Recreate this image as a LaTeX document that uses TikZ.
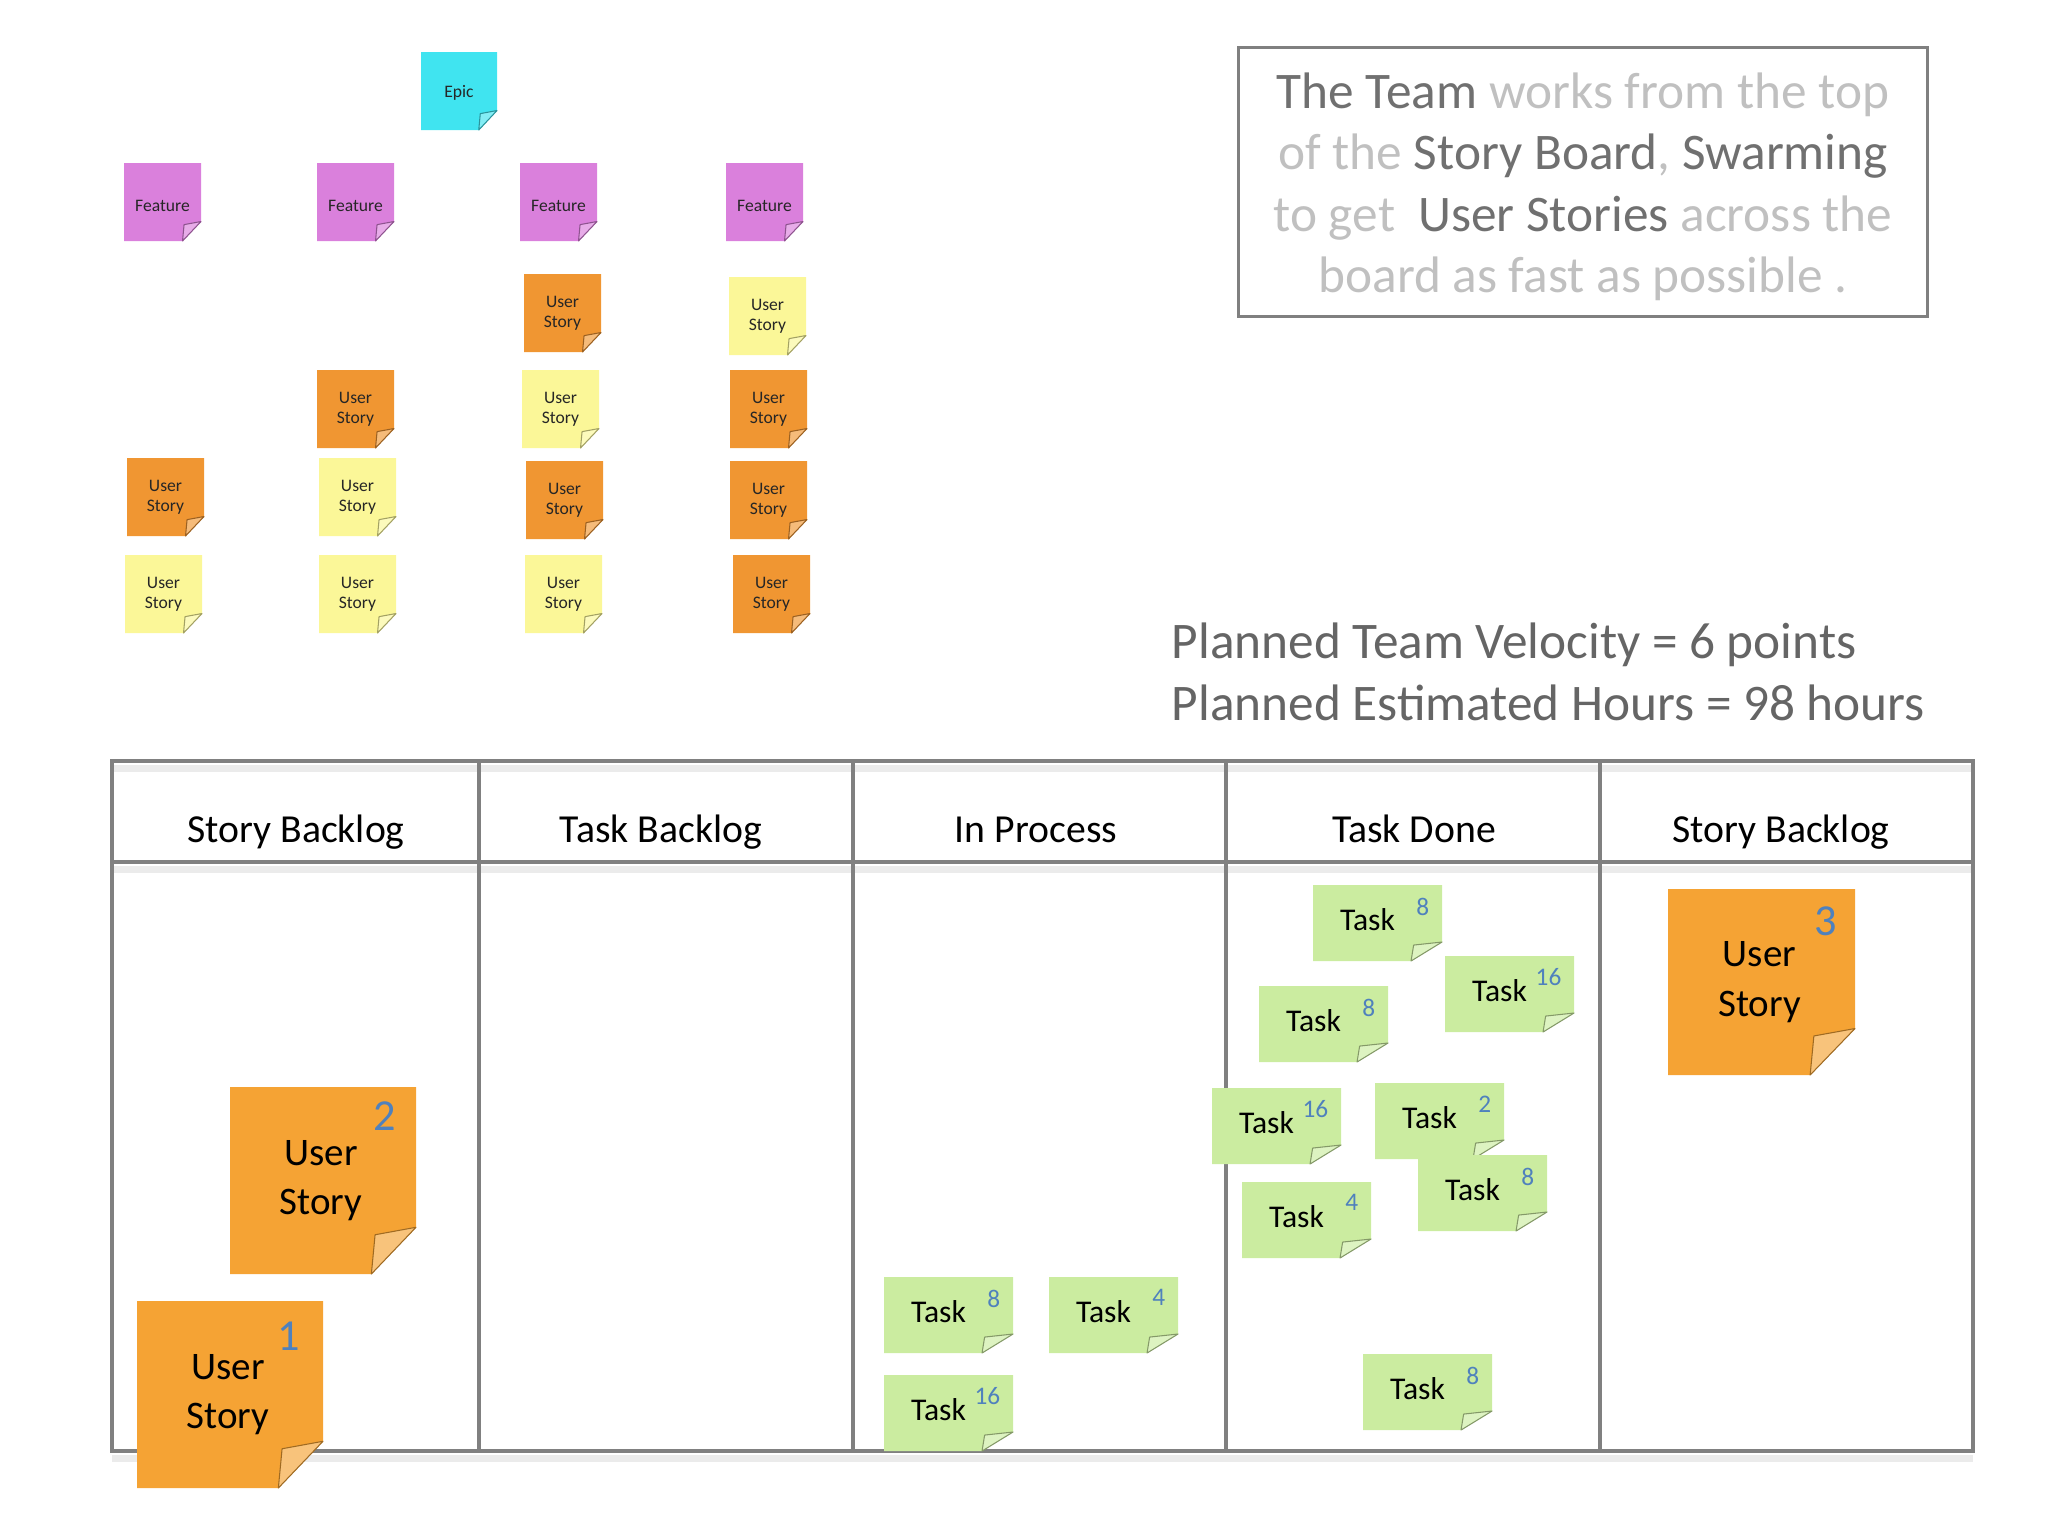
\documentclass[tikz,border=0pt]{standalone}
\usepackage{fontspec}
\setmainfont{Carlito}

\definecolor{epiccyan}{RGB}{64,228,240}
\definecolor{featpink}{RGB}{218,128,220}
\definecolor{smallorange}{RGB}{240,150,50}
\definecolor{smallyellow}{RGB}{251,247,152}
\definecolor{storyorange}{RGB}{245,163,52}
\definecolor{taskgreen}{RGB}{203,236,160}
\definecolor{numblue}{RGB}{79,129,189}
\definecolor{boardgrey}{RGB}{128,128,128}
\definecolor{darktext}{RGB}{112,112,112}
\definecolor{lighttext}{RGB}{192,192,192}

% sticky note: name, text style, top left, width, height, colour, text
\newcommand{\sticky}[7]{%
  \begin{scope}[shift={#3}]
    \fill[#6] (0,0) -- (#4,0) -- (#4,0.75*#5) -- (0.76*#4,#5) -- (0,#5) -- cycle;
    \filldraw[fill=#6!65!white, draw=#6!65!black, line width=0.3pt, line join=round]
      (0.76*#4,#5) -- (0.78*#4,0.79*#5) -- (#4,0.75*#5) -- cycle;
    \coordinate (#1-ne) at (#4,0);
    \node[#2] (#1) at (0.5*#4,0.5*#5) {#7};
  \end{scope}}

\begin{document}
\begin{tikzpicture}[x=0.1mm, y=-0.1mm,
  board/.style={draw=boardgrey, line width=0.9pt},
  boardshade/.style={draw=black!8, line width=2pt},
  header/.style={font=\fontsize{11.3}{13.5}\selectfont, anchor=base},
  smalltext/.style={font=\fontsize{5}{5.8}\selectfont, text=black!85, align=center, inner sep=0},
  bigtext/.style={font=\fontsize{11.1}{14}\selectfont, align=center, inner sep=0, xshift=-0.2mm},
  tasktext/.style={font=\fontsize{9}{10}\selectfont, inner sep=0, xshift=-1mm, yshift=0.3mm},
  bignum/.style={font=\fontsize{12.6}{13}\selectfont, text=numblue, anchor=north east, inner sep=0},
  tasknum/.style={font=\fontsize{7.2}{8}\selectfont, text=numblue, anchor=north east, inner sep=0}]
\useasboundingbox (0,0) rectangle (2048,1536);

% story map
\sticky{epic}{smalltext, yshift=-0.2mm}{(421,52)}{76}{78}{epiccyan}{Epic}
\foreach \nm/\px in {f1/124, f2/317, f3/520, f4/726}
  \sticky{\nm}{smalltext, yshift=-0.4mm}{(\px,163)}{77}{78}{featpink}{Feature};
\foreach \nm/\px/\py/\col in {s31/524/274/smallorange, s41/729/277/smallyellow,
    s22/317/370/smallorange, s32/522/370/smallyellow, s42/730/370/smallorange,
    s13/127/458/smallorange, s23/319/458/smallyellow, s33/526/461/smallorange, s43/730/461/smallorange,
    s14/125/555/smallyellow, s24/319/555/smallyellow, s34/525/555/smallyellow, s44/733/555/smallorange}
  \sticky{\nm}{smalltext}{(\px,\py)}{77}{78}{\col}{User\\Story};

% text box
\node[draw=boardgrey, line width=0.7pt, minimum width=68.9mm, minimum height=26.9mm] (infobox) at (1583,182) {};
\node[align=center, text=lighttext, font=\fontsize{14.6}{17.5}\selectfont] (info) at (1583,187)
  {{\color{darktext}The Team} works from the top\\
   of the {\color{darktext}Story Board}, {\color{darktext}Swarming}\\
   to get~ {\color{darktext}User Stories} across the\\
   board as fast as possible .};

\node[anchor=west, align=left, inner sep=0, text=darktext!90!black,
  font=\fontsize{14.6}{17.8}\selectfont] (plan) at (1171,672)
  {Planned Team Velocity = 6 points\\Planned Estimated Hours = 98 hours};

% board
\draw[boardshade] (112,768) -- (1973,768);
\draw[boardshade] (112,869) -- (1973,869);
\draw[boardshade] (112,1458) -- (1973,1458);
\draw[board] (112,761) rectangle (1973,1451);
\draw[board] (112,862) -- (1973,862);
\foreach \x in {479,853,1226,1600}
  \draw[board] (\x,761) -- (\x,1451);
\node[header] (h1) at (296,842) {Story Backlog};
\node[header] (h2) at (661,842) {Task Backlog};
\node[header] (h3) at (1036,842) {In Process};
\node[header] (h4) at (1414,842) {Task Done};
\node[header] (h5) at (1781,842) {Story Backlog};

% stories
\sticky{us2}{bigtext}{(230,1087)}{186}{187}{storyorange}{User\\Story}
\node[bignum] (us2n) at ([shift={(-19,14)}]us2-ne) {2};
\sticky{us1}{bigtext}{(137,1301)}{186}{187}{storyorange}{User\\Story}
\node[bignum] (us1n) at ([shift={(-22,20)}]us1-ne) {1};
\sticky{us3}{bigtext}{(1668,889)}{187}{186}{storyorange}{User\\Story}
\node[bignum] (us3n) at ([shift={(-17,17)}]us3-ne) {3};

% tasks
\foreach \nm/\px/\py/\hrs in {p1/884/1277/8, p2/1049/1277/4, p3/884/1375/16,
    d1/1313/885/8, d2/1445/956/16, d3/1259/986/8, d4/1212/1088/16,
    d5/1375/1083/2, d6/1418/1155/8, d7/1242/1182/4, d8/1363/1354/8}{
  \sticky{\nm}{tasktext}{(\px,\py)}{129}{76}{taskgreen}{Task}
  \node[tasknum] (\nm n) at ([shift={(-12,12)}]\nm-ne) {\hrs};
}
\end{tikzpicture}
\end{document}
